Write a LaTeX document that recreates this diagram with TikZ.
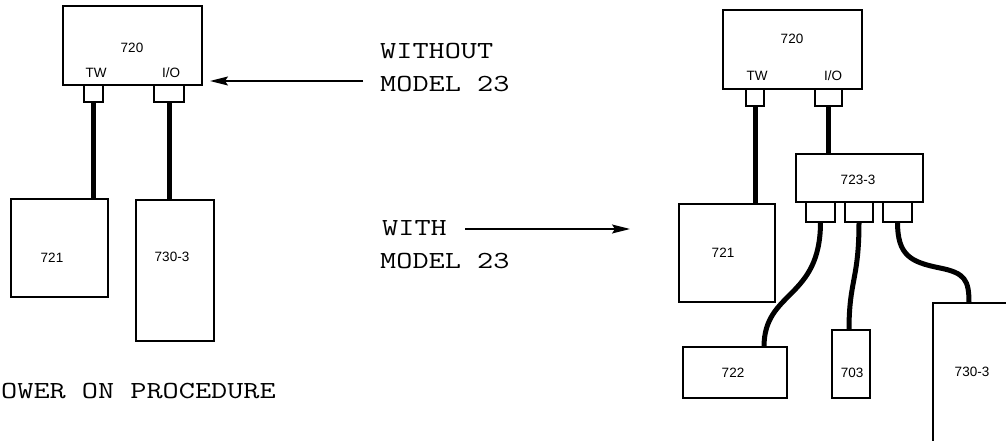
\documentclass[tikz,border=0pt]{standalone}
\usepackage{fontspec}
\usepackage{graphicx}
\usetikzlibrary{arrows.meta}
\newfontfamily\lblfont{Liberation Sans}
\newcommand{\twtext}[1]{\scalebox{1.28}[1]{#1}}
\tikzset{
  box/.style={draw, line width=1.4pt, rectangle, inner sep=0pt, outer sep=0pt, anchor=north west},
  plug/.style={draw, line width=1.3pt, rectangle, inner sep=0pt, outer sep=0pt, anchor=north west, fill=white},
  cable/.style={line width=5pt},
  lbl/.style={font=\lblfont\fontsize{13.5}{13.5}\selectfont, inner sep=0pt},
  twfont/.style={font=\ttfamily\fontsize{24.5}{24.5}\selectfont, inner sep=0pt, anchor=base west},
  arr/.style={line width=1.6pt, -{Stealth[length=18pt,width=9pt,inset=3pt]}},
}
\begin{document}
\begin{tikzpicture}[x=1pt,y=-1pt]
\useasboundingbox (0,0) rectangle (1006,441);
\clip (0,0) rectangle (1006,441);
\fill[white] (0,0) rectangle (1006,441);

% ---------- left: without model 23 ----------
\node[box, minimum width=139pt, minimum height=79pt] (La) at (63,6) {};
\node[plug, minimum width=19pt, minimum height=17pt] (LTWp) at (84,85) {};
\node[plug, minimum width=30pt, minimum height=17pt] (LIOp) at (154,85) {};
\node[box, minimum width=97pt, minimum height=98pt] (L721) at (11,199) {};
\node[box, minimum width=78pt, minimum height=141pt] (L730) at (136,200) {};
\draw[cable] (LTWp.south) -- (LTWp.south |- L721.north);
\draw[cable] (LIOp.south) -- (LIOp.south |- L730.north);
\node[lbl] (Lat) at (132,48) {720};
\node[lbl] (Latw) at (96,73) {TW};
\node[lbl] (Laio) at (171,73) {I/O};
\node[lbl] (L721t) at (52,258) {721};
\node[lbl] (L730t) at (172,257) {730-3};

% ---------- middle texts and arrows ----------
\node[twfont] (Two1) at (380,59) {\twtext{WITHOUT}};
\node[twfont] (Two2) at (380,92) {\twtext{MODEL 23}};
\node[twfont] (Tw1) at (382,235) {\twtext{WITH}};
\node[twfont] (Tw2) at (380,268) {\twtext{MODEL 23}};
\node[twfont] (Tpow) at (1,398) {\twtext{OWER ON PROCEDURE}};
\coordinate (A1tail) at (363,81);
\coordinate (A1tip) at (210,81);
\draw[arr] (A1tail) -- (A1tip);
\coordinate (A2tail) at (465,229);
\coordinate (A2tip) at (630,229);
\draw[arr] (A2tail) -- (A2tip);

% ---------- right: with model 23 ----------
\node[box, minimum width=139pt, minimum height=79pt] (Ra) at (723,10) {};
\node[plug, minimum width=18pt, minimum height=17pt] (RTWp) at (746,89) {};
\node[plug, minimum width=27pt, minimum height=17pt] (RIOp) at (815,89) {};
\node[box, minimum width=96pt, minimum height=98pt] (R721) at (679,204) {};
\node[box, minimum width=127pt, minimum height=48pt] (R723) at (796,154) {};
\node[plug, minimum width=29pt, minimum height=20pt] (Rp1) at (806,202) {};
\node[plug, minimum width=28pt, minimum height=20pt] (Rp2) at (845,202) {};
\node[plug, minimum width=29pt, minimum height=20pt] (Rp3) at (883,202) {};
\node[box, minimum width=104pt, minimum height=51pt] (R722) at (683,347) {};
\node[box, minimum width=38pt, minimum height=68pt] (R703) at (832,330) {};
\node[box, minimum width=78pt, minimum height=141pt] (R730) at (933,303) {};

\draw[cable] (RTWp.south) -- (RTWp.south |- R721.north);
\draw[cable] (RIOp.south) -- (RIOp.south |- R723.north);
\draw[cable] (Rp1.south) .. controls +(0,78) and +(0,-57) .. ([xshift=81pt]R722.north west);
\draw[cable] (Rp2.south) .. controls +(0,58) and +(0,-50) .. ([xshift=17pt]R703.north west);
\coordinate (M3) at (940,268);
\draw[cable] (Rp3.south) .. controls +(0,33) and (910,262) .. (M3)
  .. controls (965,273) and +(0,-23) .. ([xshift=36pt]R730.north west);

\node[lbl] (Rat) at (792,39) {720};
\node[lbl] (Ratw) at (757,76) {TW};
\node[lbl] (Raio) at (833,76) {I/O};
\node[lbl] (R721t) at (723,253) {721};
\node[lbl] (R723t) at (858,180) {723-3};
\node[lbl] (R722t) at (733,373) {722};
\node[lbl] (R703t) at (852,373) {703};
\node[lbl] (R730t) at (972,372) {730-3};
\end{tikzpicture}
\end{document}
